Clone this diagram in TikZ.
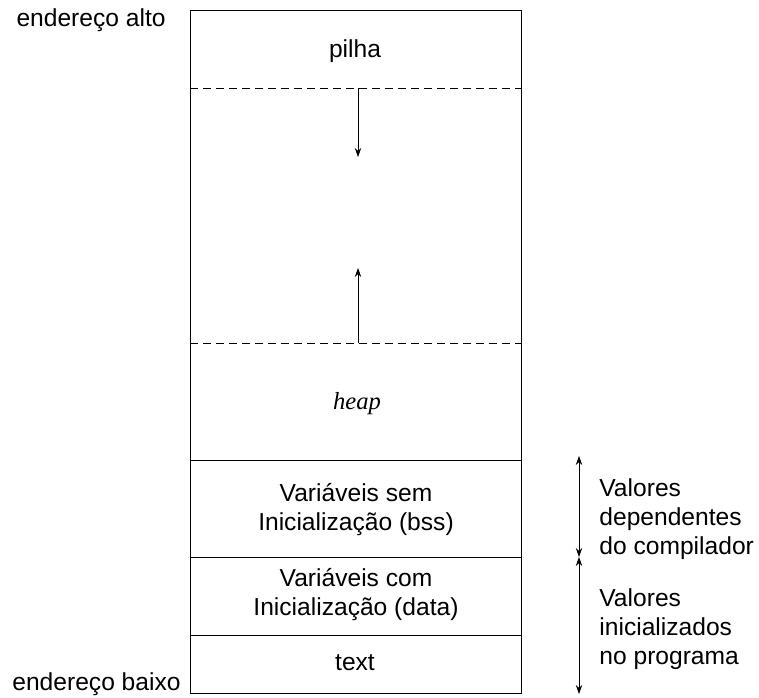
\documentclass[tikz,border=0pt]{standalone}
\usepackage{fontspec}
\setmainfont{Liberation Sans}
\newfontfamily\heapfont{Liberation Serif}
\usetikzlibrary{arrows.meta}

\begin{document}
\begin{tikzpicture}[x=0.5pt,y=-0.5pt,
    every node/.style={font=\fontsize{12.3}{14.5}\selectfont, align=center, inner sep=0pt},
    seta/.style={-{Stealth[length=4.5pt,width=3.2pt]}},
    dupla/.style={{Stealth[length=4.5pt,width=3.2pt]}-{Stealth[length=4.5pt,width=3.2pt]}},
    divisa/.style={dash pattern=on 4pt off 2.5pt}]
    %\draw[help lines] (0,0) grid[step=50] (759,697);
    \useasboundingbox (0,0) rectangle (759,697);

    % a memoria
    \draw (190,10) rectangle (521,693);
    \draw[divisa] (190,88) -- (521,88);
    \draw[divisa] (190,343) -- (521,343);
    \draw (190,460) -- (521,460);
    \draw (190,557) -- (521,557);
    \draw (190,635) -- (521,635);

    \node (pilha) at (355,51) {pilha};
    \node (heap) at (357,404) {\heapfont\itshape heap};
    \node (bss) at (356,510) {Variáveis sem\\Inicialização (bss)};
    \node (data) at (356,595) {Variáveis com\\Inicialização (data)};
    \node (text) at (355,663) {text};

    \node[anchor=east] (alto) at (166,20) {endereço alto};
    \node[anchor=east] (baixo) at (181,684) {endereço baixo};

    % crescimento
    \coordinate (topo) at (358,88);
    \coordinate (desce) at (358,157);
    \coordinate (base) at (358,343);
    \coordinate (sobe) at (358,268);
    \draw[seta] (topo) -- (desce);
    \draw[seta] (base) -- (sobe);

    % faixas da direita
    \coordinate (c1) at (579,456);
    \coordinate (c2) at (579,557);
    \coordinate (c3) at (579,694);
    \draw[dupla] (c1) -- (c2);
    \draw[dupla] (c2) -- (c3);

    \node[anchor=west, align=left] (compilador) at (599,519) {Valores\\dependentes\\do compilador};
    \node[anchor=west, align=left] (programa) at (599,629) {Valores\\inicializados\\no programa};
\end{tikzpicture}
\end{document}
